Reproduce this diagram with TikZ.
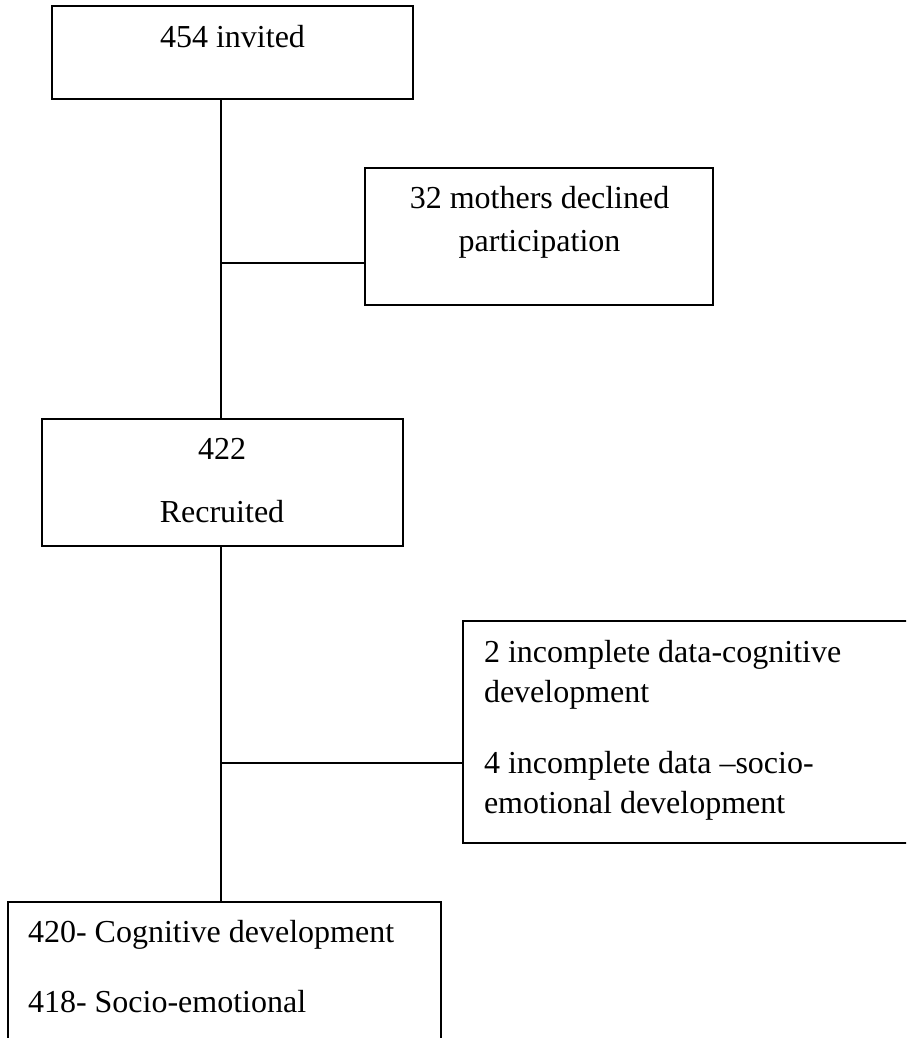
\documentclass[tikz,border=0pt]{standalone}
\usepackage{fontspec}
\setmainfont{Liberation Serif}
\begin{document}
\begin{tikzpicture}[x=1pt,y=-1pt,
  box/.style={draw=black, line width=1.8pt, inner sep=0pt, outer sep=0pt, fill=white},
  lbl/.style={inner sep=0pt, outer sep=0pt, font=\fontsize{32}{40}\selectfont},
  conn/.style={draw=black, line width=1.6pt}]
\useasboundingbox (0,0) rectangle (906,1038);
\fill[white] (0,0) rectangle (906,1038);
\clip (0,0) rectangle (906,1038);
% boxes
\node[box, minimum width=361pt, minimum height=92.7pt] (b1) at (232.5,52.3) {};
\node[box, minimum width=348pt, minimum height=137pt] (b2) at (539,236.5) {};
\node[box, minimum width=361pt, minimum height=127pt] (b3) at (222.5,482.5) {};
\node[box, minimum width=497pt, minimum height=222pt] (b4) at (711.5,732) {};
\node[box, minimum width=433pt, minimum height=198pt] (b5) at (224.5,1001) {};
% trunk and junctions
\coordinate (trunk) at (221,0);
\coordinate (j1) at (221,263);
\coordinate (j2) at (221,763);
\draw[conn] (b1.south -| trunk) -- (j1) -- (b3.north -| trunk);
\draw[conn] (j1) -- (j1 -| b2.west);
\draw[conn] (b3.south -| trunk) -- (j2) -- (b5.north -| trunk);
\draw[conn] (j2) -- (j2 -| b4.west);
% texts
\node[lbl, anchor=base] (t1) at (232.5,47.7) {454 invited};
\node[lbl, anchor=base] (t2a) at (539.5,208) {32 mothers declined};
\node[lbl, anchor=base] (t2b) at (539.5,251) {participation};
\node[lbl, anchor=base] (t3a) at (222,459) {422};
\node[lbl, anchor=base] (t3b) at (222,522) {Recruited};
\node[lbl, anchor=base west] (t4a) at (484,662) {2 incomplete data-cognitive};
\node[lbl, anchor=base west] (t4b) at (484,702) {development};
\node[lbl, anchor=base west] (t4c) at (484,773) {4 incomplete data –socio-};
\node[lbl, anchor=base west] (t4d) at (484,813) {emotional development};
\node[lbl, anchor=base west] (t5a) at (28,942) {420- Cognitive development};
\node[lbl, anchor=base west] (t5b) at (28,1012) {418- Socio-emotional};
\end{tikzpicture}
\end{document}
